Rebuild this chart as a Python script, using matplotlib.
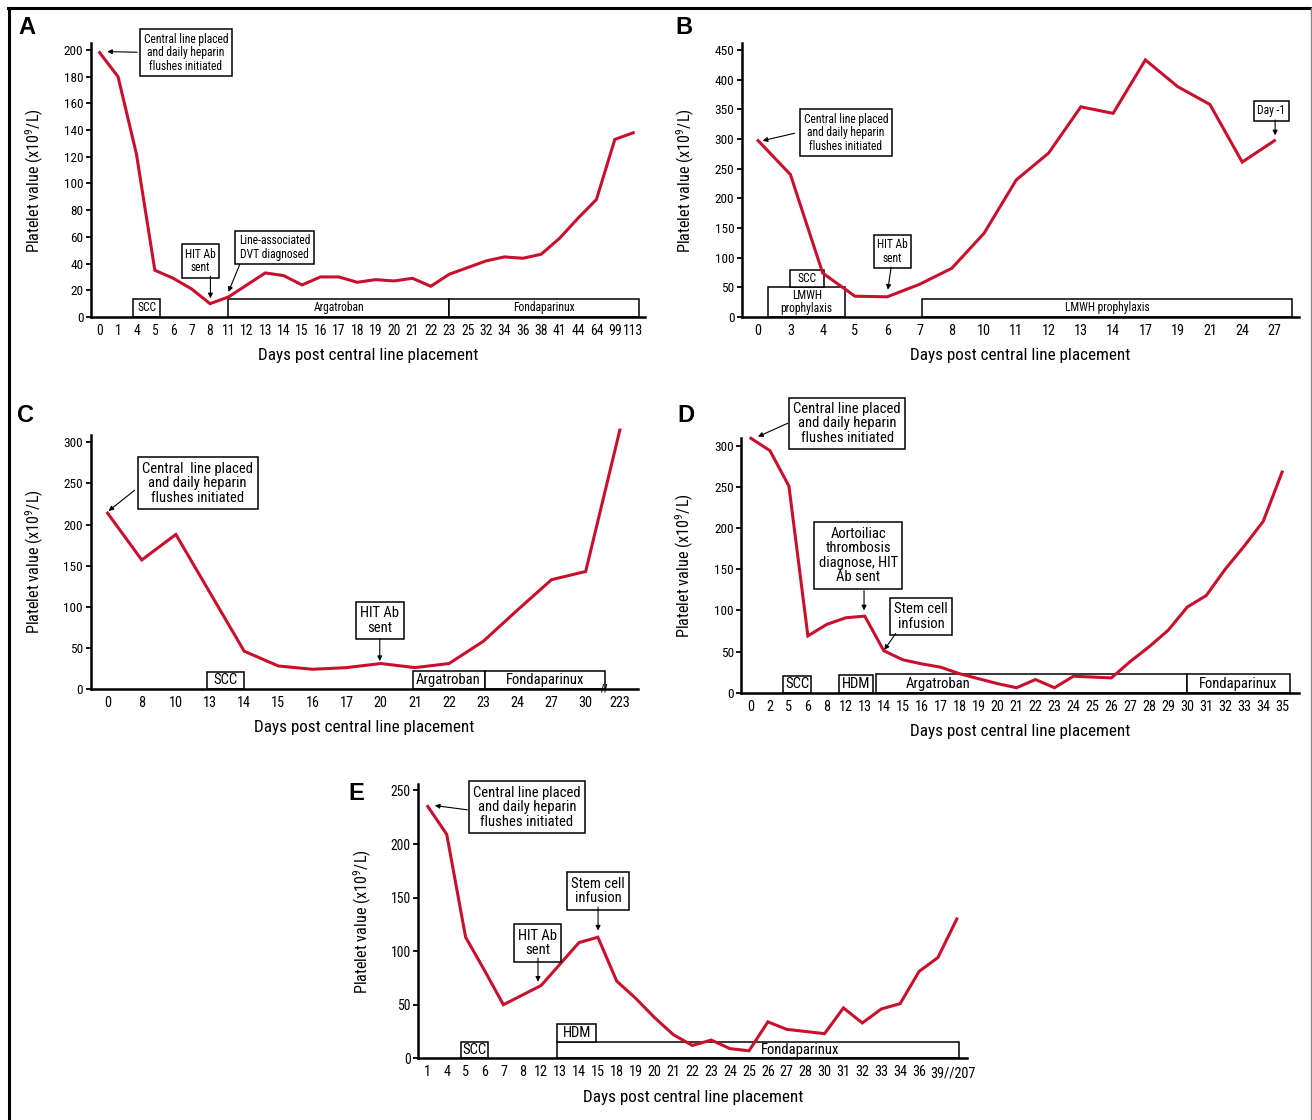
import matplotlib
matplotlib.use('Agg')
import matplotlib.pyplot as plt
import matplotlib.font_manager as fm
from matplotlib.patches import Rectangle
from matplotlib.lines import Line2D
import numpy as np

# the original uses a condensed sans; take a narrow face if one is installed
names = {f.name for f in fm.fontManager.ttflist}
FONT = 'Roboto'
for cand in ['Liberation Sans Narrow', 'Roboto Condensed', 'Open Sans Condensed', 'Arial Narrow']:
    if cand in names:
        FONT = cand
        break
plt.rcParams['font.family'] = [FONT, 'DejaVu Sans']
plt.rcParams['mathtext.default'] = 'regular'

RED = '#c8102e'
W, H = 1312, 1120

# ---- data ----
a_days = ['0', '1', '4', '5', '6', '7', '8', '11', '12', '13', '14', '15', '16', '17', '18',
          '19', '20', '21', '22', '23', '25', '32', '34', '36', '38', '41', '44', '64', '99', '113']
a_plt = [198, 180, 122, 35, 29, 21, 10, 15, 24, 33, 31, 24, 30, 30, 26,
         28, 27, 29, 23, 32, 37, 42, 45, 44, 47, 59, 74, 88, 133, 138]

b_days = ['0', '3', '4', '5', '6', '7', '8', '10', '11', '12', '13', '14', '17', '19', '21', '24', '27']
b_plt = [297, 240, 74, 35, 34, 55, 82, 141, 231, 276, 354, 343, 433, 388, 358, 261, 297]

c_days = ['0', '8', '10', '13', '14', '15', '16', '17', '20', '21', '22', '23', '24', '27', '30', '223']
c_plt = [214, 157, 188, 117, 46, 28, 24, 26, 31, 26, 31, 58, 96, 133, 143, 315]

d_days = ['0', '2', '5', '6', '8', '12', '13', '14', '15', '16', '17', '18', '19', '20', '21',
          '22', '23', '24', '25', '26', '27', '28', '29', '30', '31', '32', '33', '34', '35']
d_plt = [309, 294, 251, 69, 83, 91, 93, 51, 40, 35, 31, 23, 17, 11, 6,
         16, 6, 20, 19, 18, 38, 56, 76, 104, 118, 150, 178, 208, 268]

e_days = ['1', '4', '5', '6', '7', '8', '12', '13', '14', '15', '18', '19', '20', '21', '22',
          '23', '24', '25', '26', '27', '28', '30', '31', '32', '33', '34', '36', '39', '207']
e_plt = [235, 209, 113, 82, 50, 59, 68, 88, 108, 113, 72, 56, 38, 22, 12,
         17, 9, 7, 34, 27, 25, 23, 47, 33, 46, 51, 81, 94, 130]

central = 'Central line placed\nand daily heparin\nflushes initiated'


def panel(px, days, vals, ylim, ystep, xlim, tfs=9.5, xfs=10.3):
    l, t, r, b = px
    ax = fig.add_axes([l / W, 1 - b / H, (r - l) / W, (b - t) / H])
    x = np.arange(len(days))
    ax.plot(x, vals, color=RED, lw=2.2, zorder=4, clip_on=False, solid_joinstyle='miter')
    ax.set_xlim(*xlim)
    ax.set_ylim(*ylim)
    ax.set_xticks(x)
    ax.set_xticklabels(days, fontsize=xfs)
    ax.set_yticks(np.arange(0, ylim[1] + 1, ystep))
    ax.tick_params(axis='y', labelsize=tfs, length=3.5, width=1.3, pad=2)
    ax.tick_params(axis='x', length=0, pad=5)
    for s in ['top', 'right']:
        ax.spines[s].set_visible(False)
    for s in ['left', 'bottom']:
        ax.spines[s].set_linewidth(1.8)
    ax.text(0.5, -0.142 * 274 / (b - t), 'Days post central line placement', transform=ax.transAxes,
            ha='center', va='center', fontsize=12.3)
    ax.text(-56 / (r - l), 0.5, r'Platelet value (x10$^9$/L)', transform=ax.transAxes,
            rotation=90, ha='center', va='center', fontsize=11.7)
    return ax


def box(ax, x0, x1, y0, y1, label, fs, tx=None):
    ax.add_patch(Rectangle((x0, y0), x1 - x0, y1 - y0, fc='white', ec='black', lw=1.1,
                           zorder=2, clip_on=False))
    ax.text((x0 + x1) / 2 if tx is None else tx, (y0 + y1) / 2, label, ha='center', va='center',
            fontsize=fs, zorder=3, linespacing=1.0)


def note(ax, xy, label, fs, start, tip):
    ax.text(xy[0], xy[1], label, ha='center', va='center', fontsize=fs, zorder=5,
            linespacing=1.05, bbox=dict(boxstyle='square,pad=0.3', fc='white', ec='black', lw=1.1))
    ax.annotate('', xy=tip, xytext=start, annotation_clip=False, zorder=5,
                arrowprops=dict(arrowstyle='-|>', lw=0.8, color='black', mutation_scale=7,
                                shrinkA=0, shrinkB=0))


fig = plt.figure(figsize=(W / 100, H / 100), dpi=100)

# A
ax = panel((91, 43.3, 645, 317), a_days, a_plt, (0, 205), 20, (-0.47, 29.64), xfs=9.8)
box(ax, 1.8, 3.3, 0, 13.5, 'SCC', 8.3)
box(ax, 7.0, 19.0, 0, 13.5, 'Argatroban', 8.3)
box(ax, 19.0, 29.3, 0, 13.5, 'Fondaparinux', 8.3)
note(ax, (4.69, 198.1), central, 8.3, (2.03, 198.3), (0.41, 198.8))
note(ax, (5.48, 41.8), 'HIT Ab\nsent', 8.3, (6.02, 30.5), (6.02, 14))
note(ax, (9.5, 51.9), 'Line-associated\nDVT diagnosed', 8.3, (7.62, 39.5), (7.0, 18.8))

# B
ax = panel((742, 43.3, 1299, 317), b_days, b_plt, (0, 461), 50, (-0.5, 16.76))
box(ax, 0.31, 2.7, 0, 50, 'LMWH\nprophylaxis', 8.3)
box(ax, 1.0, 2.03, 50, 80, 'SCC', 8.3)
box(ax, 5.07, 16.54, 0, 31, 'LMWH prophylaxis', 8.3)
note(ax, (2.72, 310), central, 8.3, (1.13, 309.5), (0.14, 297))
note(ax, (4.16, 110), 'HIT Ab\nsent', 8.3, (4.12, 84), (4.02, 46))
note(ax, (15.9, 347), 'Day -1', 8.3, (16.02, 332), (16.02, 306))

# C
ax = panel((90.5, 435, 637.6, 689), c_days, c_plt, (0, 309), 50, (-0.5, 15.52))
box(ax, 2.92, 4.0, 0, 21, 'SCC', 10.5)
box(ax, 8.93, 11.04, 0, 22, 'Argatroban', 10.5)
box(ax, 11.04, 14.56, 0, 22, 'Fondaparinux', 10.5)
ax.text(14.55, 0, '//', fontsize=7, fontweight='bold', ha='center', va='center', zorder=5)
note(ax, (2.64, 250.2), 'Central  line placed\nand daily heparin\nflushes initiated', 10.5,
     (0.79, 241.7), (0.03, 216.6))
note(ax, (7.97, 83), 'HIT Ab\nsent', 10.5, (7.97, 61), (7.97, 34))

# D
ax = panel((741.3, 438.3, 1299, 692.7), d_days, d_plt, (0, 309), 50, (-0.51, 28.89))
box(ax, 1.71, 3.17, 0, 20.6, 'SCC', 10.5)
box(ax, 4.65, 6.43, 0, 21, 'HDM', 10.5)
box(ax, 6.59, 22.96, 0, 22.3, 'Argatroban', 10.5, tx=9.86)
box(ax, 22.96, 28.44, 0, 22.3, 'Fondaparinux', 10.5)
note(ax, (5.07, 327), central, 10.5, (1.93, 327.2), (0.37, 311))
note(ax, (5.66, 166.8), 'Aortoiliac\nthrombosis\ndiagnose, HIT\nAb sent', 10.5, (5.96, 124), (5.96, 100))
note(ax, (8.97, 92.6), 'Stem cell\ninfusion', 10.5, (7.63, 72), (7.03, 52))

# E
ax = panel((418.4, 784, 967, 1058.3), e_days, e_plt, (0, 256), 50, (-0.5, 28.54), tfs=9.8)
# last two day labels are printed as one run "39//207" in the original
labels = e_days[:-2] + ['', '']
ax.set_xticklabels(labels, fontsize=10.3)
ax.text(26.6, -14.5, e_days[-2] + '//' + e_days[-1], fontsize=10.3, ha='left', va='center')
box(ax, 1.76, 3.17, 0, 15.6, 'SCC', 10.5)
box(ax, 6.85, 28.1, 0, 15.6, 'Fondaparinux', 10.5, tx=19.7)
box(ax, 6.85, 8.9, 15.6, 31.8, 'HDM', 10.5)
note(ax, (5.25, 234.2), central, 10.5, (2.09, 231.9), (0.37, 235.9))
note(ax, (5.8, 107.7), 'HIT Ab\nsent', 10.5, (5.83, 93.4), (5.83, 71.5))
note(ax, (9.02, 156.1), 'Stem cell\ninfusion', 10.5, (9.01, 141), (9.01, 119.2))

# panel letters
for lab, (px, py) in zip('ABCDE', [(27, 28), (684, 28), (26, 415), (686, 416), (356, 793)]):
    fig.text(px / W, 1 - py / H, lab, fontsize=17, fontweight='bold', ha='center', va='center',
             family='Liberation Sans')

# outer frame
fig.add_artist(Line2D([9 / W, 9 / W], [0, 1 - 8 / H], color='black', lw=2.2))
fig.add_artist(Line2D([8 / W, 1311 / W], [1 - 8 / H, 1 - 8 / H], color='black', lw=2.2))
fig.add_artist(Line2D([1310.5 / W, 1310.5 / W], [0, 1 - 8 / H], color='#888888', lw=1.0))

fig.savefig('out.png', dpi=100)
